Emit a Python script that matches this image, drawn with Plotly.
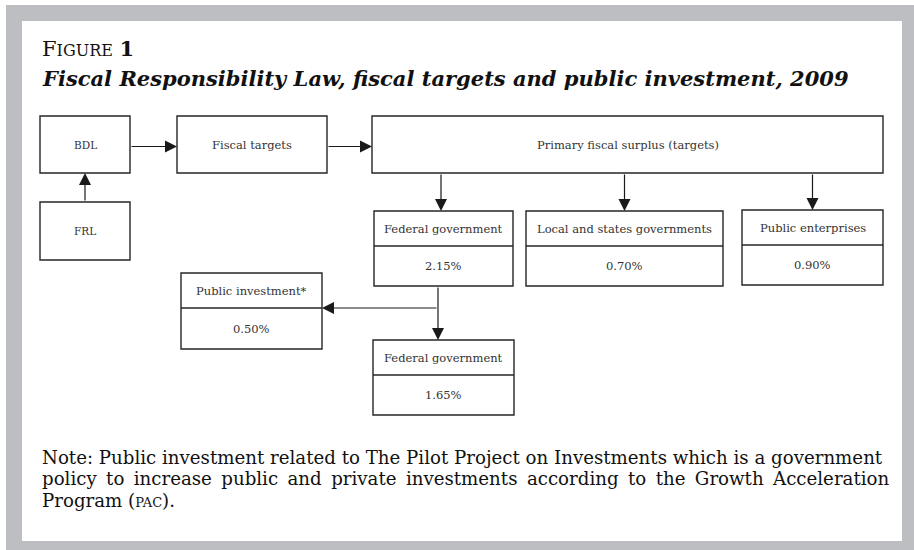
import plotly.graph_objects as go

# diagram content
box_names = ["BDL", "FRL", "Fiscal targets", "Primary fiscal surplus (targets)",
             "Federal government", "Local and states governments", "Public enterprises",
             "Public investment*", "Federal government"]
box_shares = [None, None, None, None, 2.15, 0.70, 0.90, 0.50, 1.65]
links = [(0, 2), (2, 3), (1, 0), (3, 4), (3, 5), (3, 6), (4, 8), (4, 7)]

title_top = "F<span style='font-size:16px'>IGURE</span> <b>1</b>"
title_main = "<b><i>Fiscal Responsibility Law, fiscal targets and public investment, 2009</i></b>"
gap = " \u2009"  # widened word gap to mimic the justified second line
note_lines = [
    "Note: Public investment related to The Pilot Project on Investments which is a government",
    gap.join("policy to increase public and private investments according to the Growth Acceleration".split()),
    "Program (<span style='font-size:13px'>PAC</span>).",
]

# layout of boxes in pixel space: x0, y0, x1, y1, divider y (or None)
geom = [
    (40, 116, 130, 173, None),
    (40, 202, 130, 260, None),
    (177, 116, 327, 173, None),
    (372, 116, 883, 173, None),
    (374, 211, 513, 286, 246),
    (526, 211, 723, 286, 246),
    (742, 210, 883, 285, 245),
    (181, 273, 322, 349, 308),
    (373, 340, 514, 415, 375),
]

SERIF = "DejaVu Serif, serif"
LINE = "#262626"
W, H = 914, 550

fig = go.Figure()
shapes = []
ann = []

# grey frame
shapes.append(dict(type="rect", x0=6, y0=5, x1=W + 5, y1=H + 5, fillcolor="#bdbec2",
                   line_width=0, layer="below"))
shapes.append(dict(type="rect", x0=22, y0=21, x1=902, y1=541, fillcolor="white",
                   line_width=0, layer="below"))

for name, share, (x0, y0, x1, y1, d) in zip(box_names, box_shares, geom):
    shapes.append(dict(type="rect", x0=x0, y0=y0, x1=x1, y1=y1,
                       line=dict(color=LINE, width=1.4)))
    cx = (x0 + x1) / 2
    if d is None:
        ann.append(dict(x=cx, y=(y0 + y1) / 2, text=name, showarrow=False,
                        font=dict(family=SERIF, size=11.5 if len(name) > 3 else 10.5, color="#333")))
    else:
        shapes.append(dict(type="line", x0=x0, y0=d, x1=x1, y1=d,
                           line=dict(color=LINE, width=1.4)))
        ann.append(dict(x=cx, y=(y0 + d) / 2, text=name, showarrow=False,
                        font=dict(family=SERIF, size=11.5, color="#333")))
        ann.append(dict(x=cx, y=(d + y1) / 2, text=f"{share:.2f}%", showarrow=False,
                        font=dict(family=SERIF, size=11.5, color="#333")))


def arrow(xs, ys, xe, ye):
    ann.append(dict(x=xe, y=ye, ax=xs, ay=ys, xref="x", yref="y", axref="x", ayref="y",
                    text="", showarrow=True, arrowhead=2, arrowsize=2.0, arrowwidth=1.2,
                    arrowcolor="#1a1a1a", standoff=0, startstandoff=0))


trunk_x = 438
for a, b in links:
    ga, gb = geom[a], geom[b]
    if a == 4 and b == 7:
        # branch off the vertical trunk to the left
        arrow(trunk_x, gb[4], gb[2], gb[4])
    elif a == 4 and b == 8:
        arrow(trunk_x, ga[3], trunk_x, gb[1])
    elif ga[3] <= gb[1]:
        # downward link
        x = (gb[0] + gb[2]) / 2 - (2.5 if b == 4 else 0)
        arrow(x, ga[3], x, gb[1])
    elif ga[1] >= gb[3]:
        # upward link
        x = (ga[0] + ga[2]) / 2
        arrow(x, ga[1], x, gb[3])
    else:
        y = (ga[1] + ga[3]) / 2 + 2
        arrow(ga[2], y, gb[0], y)

# titles
ann.append(dict(x=40, y=48, text=title_top, showarrow=False, xanchor="left",
                font=dict(family=SERIF, size=21, color="#111")))
ann.append(dict(x=40, y=78, text=title_main, showarrow=False, xanchor="left",
                font=dict(family=SERIF, size=21, color="#111")))
for i, line in enumerate(note_lines):
    ann.append(dict(x=40, y=457 + 21.5 * i, text=line, showarrow=False, xanchor="left",
                    font=dict(family=SERIF, size=18.2, color="#111")))

fig.update_layout(
    width=W, height=H, margin=dict(l=0, r=0, t=0, b=0),
    paper_bgcolor="white", plot_bgcolor="white",
    xaxis=dict(range=[0, W], visible=False, fixedrange=True),
    yaxis=dict(range=[H, 0], visible=False, fixedrange=True),
    shapes=shapes, annotations=ann, showlegend=False,
)

# the page body has a default 8px margin; drop it so the figure fills the window
fig.write_html("out.html", config={"displayModeBar": False},
               post_script="document.body.style.margin='0';")
